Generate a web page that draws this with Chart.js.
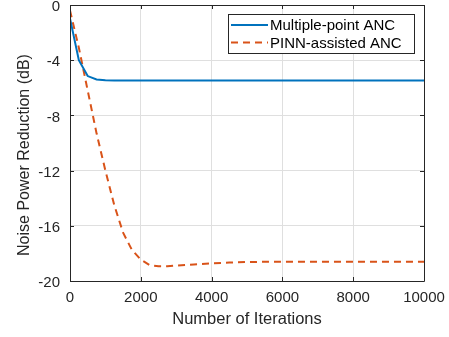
<!DOCTYPE html>
<html>
<head>
<meta charset="utf-8">
<script src="https://cdn.jsdelivr.net/npm/chart.js@4.4.1/dist/chart.umd.min.js"></script>
<style>
html,body{margin:0;padding:0;background:#fff;}
#wrap{width:449px;height:337px;}
</style>
</head>
<body>
<div id="wrap"><canvas id="c" width="449" height="337"></canvas></div>
<script>
const iterations = [0,250,500,750,1000,1250,1500,1750,2000,2250,2500,2750,3000,3500,4000,4500,5000,6000,7000,8000,9000,10000];
const multiPoint = [-0.97,-4.0,-5.15,-5.4,-5.46,-5.47,-5.47,-5.47,-5.47,-5.47,-5.47,-5.47,-5.47,-5.47,-5.47,-5.47,-5.47,-5.47,-5.47,-5.47,-5.47,-5.47];
const pinnAssisted = [-0.4,-3.1,-6.2,-9.3,-12.0,-14.5,-16.5,-17.75,-18.45,-18.85,-18.93,-18.93,-18.88,-18.8,-18.72,-18.66,-18.62,-18.6,-18.6,-18.6,-18.6,-18.6];
const seriesLabels = ['Multiple-point ANC','PINN-assisted ANC'];
const xTitle = 'Number of Iterations';
const yTitle = 'Noise Power Reduction (dB)';

const FONT = "'Liberation Sans', Arial, Helvetica, sans-serif";
const AX = '#262626';

const toXY = arr => iterations.map((x,i)=>({x:x,y:arr[i]}));

const boxPlugin = {
  id:'box',
  afterDatasetsDraw(chart){
    const {ctx, chartArea:a, scales:{x,y}} = chart;
    ctx.save();
    ctx.strokeStyle = AX; ctx.lineWidth = 1;
    ctx.beginPath();
    ctx.rect(Math.round(a.left)+0.5, Math.round(a.top)+0.5, Math.round(a.right-a.left), Math.round(a.bottom-a.top));
    ctx.stroke();
    const L = 4;
    ctx.beginPath();
    x.ticks.forEach(t=>{
      const px = Math.round(x.getPixelForValue(t.value))+0.5;
      ctx.moveTo(px, a.bottom); ctx.lineTo(px, a.bottom-L);
      ctx.moveTo(px, a.top); ctx.lineTo(px, a.top+L);
    });
    y.ticks.forEach(t=>{
      const py = Math.round(y.getPixelForValue(t.value))+0.5;
      ctx.moveTo(a.left, py); ctx.lineTo(a.left+L, py);
      ctx.moveTo(a.right, py); ctx.lineTo(a.right-L, py);
    });
    ctx.stroke();
    ctx.restore();
  },
  afterDraw(chart){
    const {ctx} = chart;
    ctx.save();
    // y axis title
    ctx.translate(25, 155);
    ctx.rotate(-Math.PI/2);
    ctx.font = "16px " + FONT;
    ctx.fillStyle = AX;
    ctx.textAlign = 'center';
    ctx.textBaseline = 'middle';
    ctx.fillText(yTitle, 0, 0);
    ctx.restore();

    const bx=228.5, by=14.5, bw=186, bh=39;
    ctx.save();
    ctx.fillStyle='#fff';
    ctx.fillRect(bx,by,bw,bh);
    ctx.strokeStyle=AX; ctx.lineWidth=1;
    ctx.strokeRect(bx,by,bw,bh);
    ctx.font = "15px " + FONT;
    ctx.textBaseline='middle';
    ctx.fillStyle='#000';
    const rows=[25,42.5];
    chart.data.datasets.forEach((ds,i)=>{
      ctx.strokeStyle=ds.borderColor; ctx.lineWidth=2;
      ctx.setLineDash(ds.borderDash||[]);
      ctx.beginPath(); ctx.moveTo(231,rows[i]); ctx.lineTo(268,rows[i]); ctx.stroke();
      ctx.setLineDash([]);
      ctx.fillText(ds.label, 270, rows[i]+1);
    });
    ctx.restore();
  }
};

function noPad(s){ s.paddingTop=0; s.paddingBottom=0; s.paddingLeft=0; s.paddingRight=0; }

new Chart(document.getElementById('c'), {
  type:'line',
  data:{
    datasets:[
      {label:seriesLabels[0], data:toXY(multiPoint), borderColor:'#0072BD', borderWidth:2, pointRadius:0, tension:0, fill:false},
      {label:seriesLabels[1], data:toXY(pinnAssisted), borderColor:'#D95319', borderWidth:2, borderDash:[7,5], pointRadius:0, tension:0, fill:false}
    ]
  },
  options:{
    responsive:false, animation:false, devicePixelRatio:1,
    layout:{padding:{left:0,right:25,top:5,bottom:0}},
    plugins:{legend:{display:false}, tooltip:{enabled:false}},
    scales:{
      x:{type:'linear', min:0, max:10000,
        ticks:{stepSize:2000, color:AX, font:{family:FONT,size:15}, padding:8, maxRotation:0, callback:v=>String(v)},
        grid:{color:'#dfdfdf', drawTicks:false}, border:{display:false},
        title:{display:true, text:xTitle, color:AX, font:{family:FONT,size:16.5}, padding:{top:0,bottom:8}},
        afterFit(s){ s.height = 56; noPad(s); }
      },
      y:{type:'linear', min:-20, max:0,
        ticks:{stepSize:4, color:AX, font:{family:FONT,size:15}, padding:10, labelOffset:2, callback:v=>String(v)},
        grid:{color:'#dfdfdf', drawTicks:false}, border:{display:false},
        title:{display:false},
        afterFit(s){ s.width = 70; noPad(s); }
      }
    }
  },
  plugins:[boxPlugin]
});
</script>
</body>
</html>
